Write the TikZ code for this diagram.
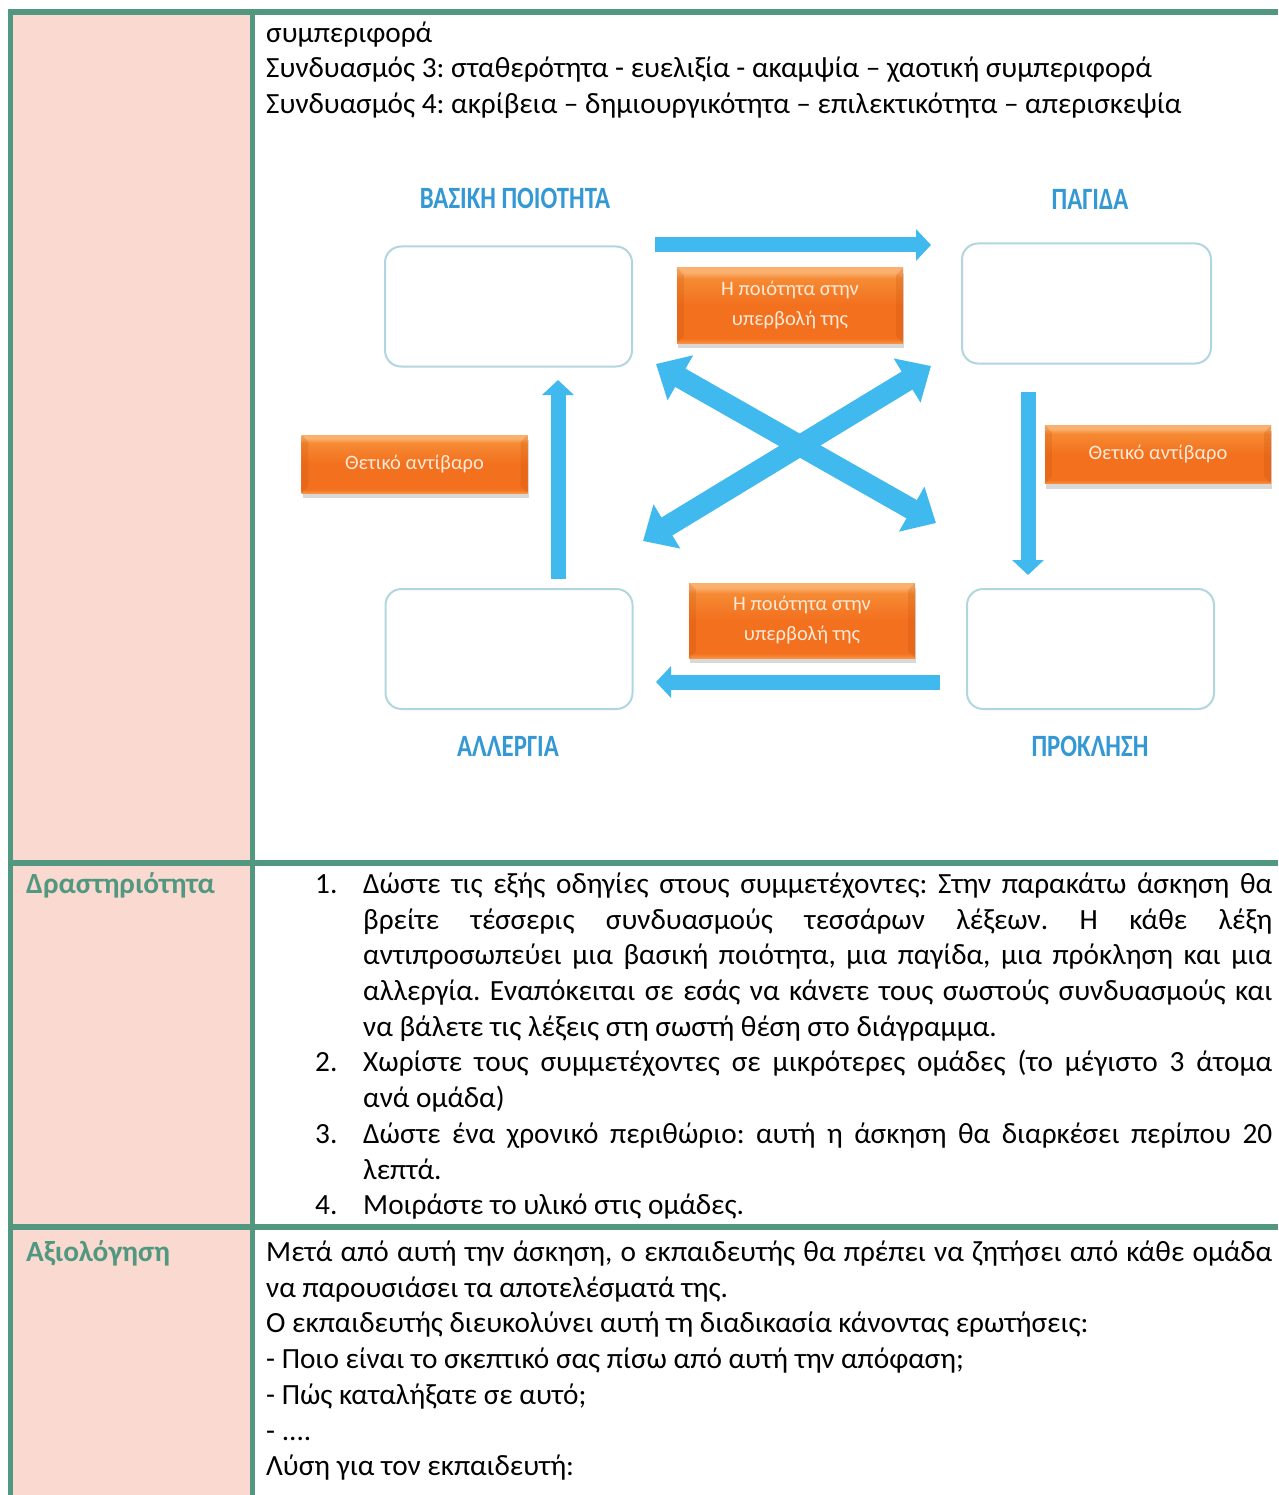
\documentclass[tikz,border=0pt]{standalone}
\usepackage{fontspec}
\setmainfont{Carlito}
\usetikzlibrary{arrows.meta,shadows}
\frenchspacing

\definecolor{tablegreen}{RGB}{82,152,128}
\definecolor{cellpink}{RGB}{250,218,208}
\definecolor{arrowblue}{RGB}{64,186,238}
\definecolor{labelblue}{RGB}{52,152,212}
\definecolor{boxedge}{RGB}{178,214,224}
\definecolor{otop}{RGB}{250,176,110}
\definecolor{omidhi}{RGB}{246,138,52}
\definecolor{omid}{RGB}{242,112,30}
\definecolor{obot}{RGB}{247,146,66}
\definecolor{otext}{RGB}{255,234,216}
\definecolor{obevel}{RGB}{200,80,10}

\pgfdeclareverticalshading{orangebevel}{100bp}{color(0bp)=(obot); color(25bp)=(obot); color(28bp)=(omid); color(50bp)=(omid); color(68bp)=(omidhi); color(72bp)=(otop); color(75bp)=(otop); color(100bp)=(otop)}

\newcommand\bodysize{\fontsize{29.3}{35.7}\selectfont}

\begin{document}
\begin{tikzpicture}[x=1pt,y=-1pt,
  body/.style={anchor=base west,inner sep=0pt,font=\bodysize},
  heading/.style={anchor=base west,inner sep=0pt,font=\bodysize\bfseries,text=tablegreen},
  answerbox/.style={draw=boxedge,line width=2pt,rounded corners=16pt,fill=white,minimum width=247pt,minimum height=120pt,inner sep=0pt},
  quadlabel/.style={text=labelblue,font=\fontsize{31}{34}\selectfont\bfseries,inner sep=0pt},
  orangebox/.style={shading=orangebevel,minimum width=226pt,inner sep=0pt,text=otext,align=center,
    font=\fontsize{20.5}{30}\selectfont,drop shadow={opacity=0.3,shadow xshift=1pt,shadow yshift=-5pt}},
  bevel/.style={fill=obevel,fill opacity=0.22,draw=none},
  flow/.style={arrowblue,line width=15pt,-{Triangle[width=31pt,length=15pt]}},
  cross/.style={arrowblue,line width=21pt,{Triangle[width=50pt,length=28pt]}-{Triangle[width=50pt,length=28pt]}}
]
\useasboundingbox (0,0) rectangle (1278,1495);
\fill[white] (0,0) rectangle (1278,1495);

% --- table frame ---
\fill[cellpink] (13,15) rectangle (250,1495);
\fill[tablegreen] (8,9) rectangle (1278,15);
\fill[tablegreen] (8,9) rectangle (13,1495);
\fill[tablegreen] (250,9) rectangle (255,1495);
\fill[tablegreen] (8,860) rectangle (1278,866);
\fill[tablegreen] (8,1224) rectangle (1278,1230);

% --- first row: end of the word list ---
\node[body] (r1a) at (266,43) {συμπεριφορά};
\node[body] (r1b) at (266,78) {Συνδυασμός 3: σταθερότητα - ευελιξία - ακαμψία – χαοτική συμπεριφορά};
\node[body] (r1c) at (266,114) {Συνδυασμός 4: ακρίβεια – δημιουργικότητα – επιλεκτικότητα – απερισκεψία};

% --- core quadrant diagram ---
\node[quadlabel] (lq) at (515,198) {\scalebox{0.8}[1]{ΒΑΣΙΚΗ ΠΟΙΟΤΗΤΑ}};
\node[quadlabel] (lp) at (1090,199) {\scalebox{0.8}[1]{ΠΑΓΙΔΑ}};
\node[quadlabel] (la) at (508,746) {\scalebox{0.8}[1]{ΑΛΛΕΡΓΙΑ}};
\node[quadlabel] (lc) at (1090,746) {\scalebox{0.8}[1]{ΠΡΟΚΛΗΣΗ}};

\node[answerbox] (bq) at (508.5,306.5) {};
\node[answerbox,minimum width=249pt] (bp) at (1086.5,303.5) {};
\node[answerbox] (ba) at (509,649) {};
\node[answerbox] (bc) at (1090.5,649) {};

% flow arrows around the square
\coordinate (t1) at (655,245);  \coordinate (t2) at (931,245);
\coordinate (r1) at (1028,392); \coordinate (r2) at (1028,575);
\coordinate (b1) at (940,682);  \coordinate (b2) at (656,682);
\coordinate (l1) at (558,579);  \coordinate (l2) at (558,380);
\draw[flow] (t1) -- (t2);
\draw[flow] (r1) -- (r2);
\draw[flow] (b1) -- (b2);
\draw[flow] (l1) -- (l2);

% the crossing double arrows
\coordinate (x1) at (656,364); \coordinate (x2) at (936,523);
\coordinate (x3) at (931,366); \coordinate (x4) at (643,541);
\draw[cross] (x1) -- (x2);
\draw[cross] (x3) -- (x4);

% orange captions with bevelled sides
\node[orangebox,minimum height=75pt] (ot) at (790,305.5) {Η ποιότητα στην\\υπερβολή της};
\node[orangebox,minimum height=75pt] (ob) at (802,620.5) {Η ποιότητα στην\\υπερβολή της};
\node[orangebox,minimum height=58pt] (ol) at (414.5,464) {Θετικό αντίβαρο};
\node[orangebox,minimum height=58pt] (or) at (1158,454.5) {Θετικό αντίβαρο};
\foreach \b in {ot,ob,ol,or}{
  \fill[bevel] (\b.north west) -- ([shift={(7,7)}]\b.north west) -- ([shift={(7,-7)}]\b.south west) -- (\b.south west) -- cycle;
  \fill[bevel] (\b.north east) -- ([shift={(-7,7)}]\b.north east) -- ([shift={(-7,-7)}]\b.south east) -- (\b.south east) -- cycle;
}

% --- second row: activity ---
\node[heading] (hact) at (26,893) {Δραστηριότητα};
\node[body] (n1) at (315,893) {1.};
\node[body] (a1) at (363,893) {\makebox[909pt][s]{Δώστε τις εξής οδηγίες στους συμμετέχοντες: Στην παρακάτω άσκηση θα}};
\node[body] (a2) at (363,929) {\makebox[909pt][s]{βρείτε τέσσερις συνδυασμούς τεσσάρων λέξεων. Η κάθε λέξη}};
\node[body] (a3) at (363,964) {\makebox[909pt][s]{αντιπροσωπεύει μια βασική ποιότητα, μια παγίδα, μια πρόκληση και μια}};
\node[body] (a4) at (363,1000) {\makebox[909pt][s]{αλλεργία. Εναπόκειται σε εσάς να κάνετε τους σωστούς συνδυασμούς και}};
\node[body] (a5) at (363,1036) {να βάλετε τις λέξεις στη σωστή θέση στο διάγραμμα.};
\node[body] (n2) at (315,1071) {2.};
\node[body] (a6) at (363,1071) {\makebox[909pt][s]{Χωρίστε τους συμμετέχοντες σε μικρότερες ομάδες (το μέγιστο 3 άτομα}};
\node[body] (a7) at (363,1107) {ανά ομάδα)};
\node[body] (n3) at (315,1143) {3.};
\node[body] (a8) at (363,1143) {\makebox[909pt][s]{Δώστε ένα χρονικό περιθώριο: αυτή η άσκηση θα διαρκέσει περίπου 20}};
\node[body] (a9) at (363,1179) {λεπτά.};
\node[body] (n4) at (315,1214) {4.};
\node[body] (a10) at (363,1214) {Μοιράστε το υλικό στις ομάδες.};

% --- third row: evaluation ---
\node[heading] (heval) at (26,1261) {Αξιολόγηση};
\node[body] (e1) at (266,1261) {\makebox[1006pt][s]{Μετά από αυτή την άσκηση, ο εκπαιδευτής θα πρέπει να ζητήσει από κάθε ομάδα}};
\node[body] (e2) at (266,1297) {να παρουσιάσει τα αποτελέσματά της.};
\node[body] (e3) at (266,1332) {Ο εκπαιδευτής διευκολύνει αυτή τη διαδικασία κάνοντας ερωτήσεις:};
\node[body] (e4) at (266,1368) {- Ποιο είναι το σκεπτικό σας πίσω από αυτή την απόφαση;};
\node[body] (e5) at (266,1404) {- Πώς καταλήξατε σε αυτό;};
\node[body] (e6) at (266,1440) {- ....};
\node[body] (e7) at (266,1475) {Λύση για τον εκπαιδευτή:};
\end{tikzpicture}
\end{document}
